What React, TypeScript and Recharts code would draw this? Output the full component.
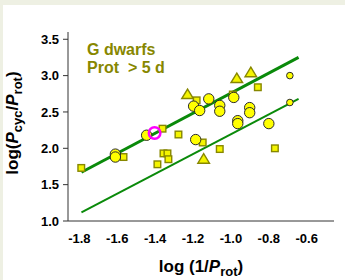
import React from "react";
import {
  ScatterChart,
  Scatter,
  XAxis,
  YAxis,
  ReferenceLine,
  Customized,
} from "recharts";

// log(1/Prot), log(Pcyc/Prot)
const squarePts = [
  [-1.79, 1.73], [-1.567, 1.88], [-1.361, 2.27], [-1.277, 2.19],
  [-1.356, 1.93], [-1.335, 1.93], [-1.33, 1.85], [-1.388, 1.78],
  [-1.181, 2.66], [-1.149, 2.08], [-1.059, 1.99], [-0.99, 2.74],
  [-0.858, 2.84], [-0.768, 2.0],
];
const trianglePts = [
  [-1.229, 2.74], [-0.969, 2.96], [-0.895, 3.04], [-1.144, 1.85],
];
const bigCirclePts = [
  [-1.61, 1.92], [-1.61, 1.88], [-1.445, 2.18], [-1.197, 2.58],
  [-1.165, 2.52], [-1.117, 2.68], [-1.059, 2.59], [-1.059, 2.51],
  [-0.985, 2.7], [-0.901, 2.56], [-0.901, 2.49], [-0.964, 2.38],
  [-0.964, 2.34], [-0.8, 2.34], [-1.186, 2.12],
];
const smallCirclePts = [[-0.689, 3.0], [-0.689, 2.63]];
const sunPts = [[-1.403, 2.21]];

const upperFit = [[-1.789, 1.67], [-0.643, 3.25]];
const lowerFit = [[-1.789, 1.12], [-0.643, 2.68]];

const xTicks = [-1.8, -1.6, -1.4, -1.2, -1.0, -0.8, -0.6];
const yTicks = [1.0, 1.5, 2.0, 2.5, 3.0, 3.5];

const toXY = (pts: number[][]) => pts.map(([x, y]) => ({ x, y }));

const FONT = "'Liberation Sans', Arial, sans-serif";
const OLIVE = "#878700";

const Square = (p: any) => (
  <rect x={p.cx - 3.3} y={p.cy - 3.3} width={6.6} height={6.6}
    fill="#f4f400" stroke={OLIVE} strokeWidth={1.4} />
);
const Tri = (p: any) => (
  <polygon
    points={`${p.cx},${p.cy - 5.5} ${p.cx - 5.8},${p.cy + 4} ${p.cx + 5.8},${p.cy + 4}`}
    fill="#f4f400" stroke={OLIVE} strokeWidth={1.4} />
);
const BigDot = (p: any) => (
  <circle cx={p.cx} cy={p.cy} r={5.2} fill="#ffff00" stroke="#2a2a2a" strokeWidth={1} />
);
const SmallDot = (p: any) => (
  <circle cx={p.cx} cy={p.cy} r={3.3} fill="#ffff00" stroke="#2a2a2a" strokeWidth={1} />
);
const Ring = (p: any) => (
  <circle cx={p.cx} cy={p.cy} r={5.8} fill="none" stroke="#ff00ff" strokeWidth={2.5} />
);

const Notes = () => (
  <g fontFamily={FONT} fontWeight="bold">
    <text x={87} y={55} fontSize={16} fill={OLIVE}>G dwarfs</text>
    <text x={87} y={73} fontSize={16} fill={OLIVE} xmlSpace="preserve">Prot  &gt; 5 d</text>
    <text x={201} y={272} fontSize={17} textAnchor="middle" fill="#000">
      log (1/<tspan fontStyle="italic">P</tspan>
      <tspan fontSize={13} dy={4}>rot</tspan>
      <tspan dy={-4}>)</tspan>
    </text>
    <text x={0} y={0} fontSize={17} textAnchor="middle" fill="#000"
      transform="translate(18,123) rotate(-90)">
      log(<tspan fontStyle="italic">P</tspan>
      <tspan fontSize={13} dy={4}>cyc</tspan>
      <tspan dy={-4}>/</tspan>
      <tspan fontStyle="italic">P</tspan>
      <tspan fontSize={13} dy={4}>rot</tspan>
      <tspan dy={-4}>)</tspan>
    </text>
  </g>
);

const tickStyle = { fill: "#000", fontSize: 13, fontWeight: "bold", fontFamily: FONT };

export default function App() {
  return (
    <div style={{ position: "fixed", left: 0, top: 0, width: 345, height: 280, background: "#eef0e3" }}>
      <div style={{ position: "absolute", left: 3, top: 5, right: 0, bottom: 0, background: "#fff" }} />
      <div style={{ position: "absolute", left: 0, top: 0 }}>
        <ScatterChart width={345} height={280} margin={{ top: 32, right: 11, bottom: 0, left: 0 }}>
          <XAxis type="number" dataKey="x" domain={[-1.86, -0.456]} ticks={xTicks}
            allowDataOverflow height={59} tickLine={false} tickSize={5} tickMargin={8}
            tick={tickStyle} tickFormatter={(v: number) => v.toFixed(1)}
            axisLine={{ stroke: "#333", strokeWidth: 1 }} />
          <XAxis xAxisId="top" orientation="top" type="number" dataKey="x" domain={[-1.86, -0.456]}
            allowDataOverflow height={0} tick={false} tickLine={false}
            axisLine={{ stroke: "#333", strokeWidth: 1 }} />
          <YAxis type="number" dataKey="y" domain={[1, 3.6]} ticks={yTicks} allowDataOverflow
            width={68} tickSize={5} tickMargin={4} tick={tickStyle}
            tickFormatter={(v: number) => v.toFixed(1)}
            tickLine={{ stroke: "#333" }} axisLine={{ stroke: "#333", strokeWidth: 1 }} />
          <YAxis yAxisId="right" orientation="right" type="number" dataKey="y" domain={[1, 3.6]}
            allowDataOverflow width={0} tick={false} tickLine={false}
            axisLine={{ stroke: "#333", strokeWidth: 1 }} />
          <Scatter data={toXY(squarePts)} shape={Square} isAnimationActive={false} />
          <Scatter data={toXY(trianglePts)} shape={Tri} isAnimationActive={false} />
          <Scatter data={toXY(bigCirclePts)} shape={BigDot} isAnimationActive={false} />
          <Scatter data={toXY(smallCirclePts)} shape={SmallDot} isAnimationActive={false} />
          <ReferenceLine segment={toXY(upperFit)} stroke="#0a8a0a" strokeWidth={3} />
          <ReferenceLine segment={toXY(lowerFit)} stroke="#0a8a0a" strokeWidth={2} />
          <Scatter data={toXY(sunPts)} shape={Ring} isAnimationActive={false} />
          <Customized component={Notes} />
        </ScatterChart>
      </div>
    </div>
  );
}
